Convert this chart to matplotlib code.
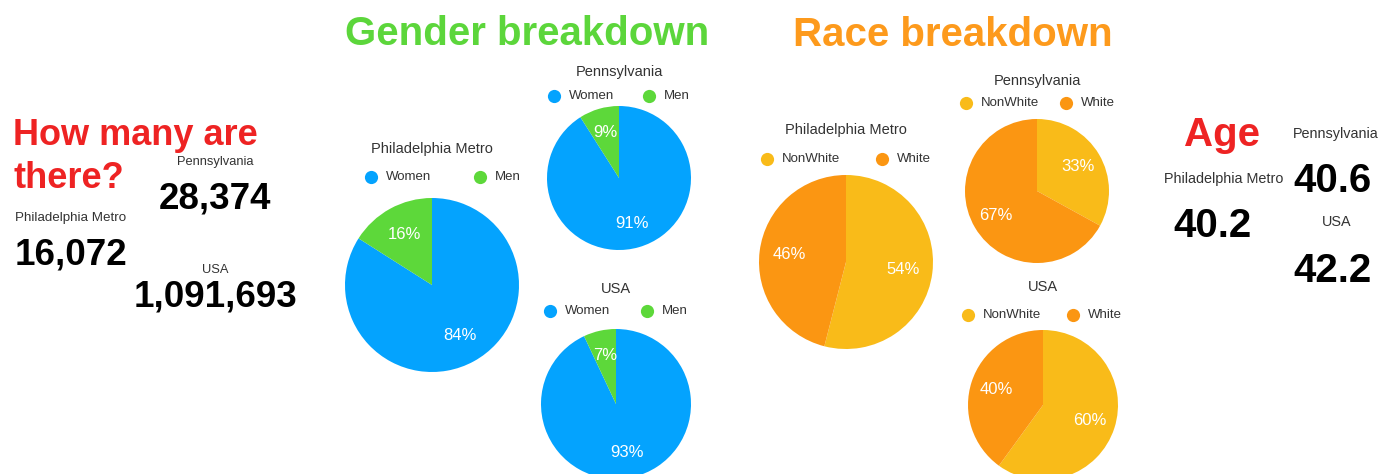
import matplotlib.pyplot as plt

plt.rcParams['font.family'] = ['Liberation Sans', 'DejaVu Sans']

# data
regions = ["Philadelphia Metro", "Pennsylvania", "USA"]
counts = [16072, 28374, 1091693]
ages = [40.2, 40.6, 42.2]
gender_labels = ["Women", "Men"]
women_pct = [84, 91, 93]
men_pct = [16, 9, 7]
race_labels = ["NonWhite", "White"]
nonwhite_pct = [54, 33, 60]
white_pct = [46, 67, 40]

BLUE = '#04a3fe'
GREEN = '#5dd83a'
YELLOW = '#f9bb19'
ORANGE = '#fb9612'
RED = '#ee2323'

W, H = 1393, 474


def Y(y):
    # pixel row from the top -> data y
    return H - y


def draw_pie(ax, vals, colors, cx, cy, r):
    ax.pie(vals, colors=colors, startangle=90, counterclock=False,
           center=(cx, Y(cy)), radius=r, autopct=lambda p: f"{p:.0f}%",
           pctdistance=0.66, wedgeprops=dict(linewidth=0),
           textprops=dict(color='white', fontsize=12))


def draw_legend(ax, title, labels, colors, cx, title_y, leg_y, mx):
    ax.text(cx, Y(title_y), title, ha='center', va='baseline',
            fontsize=10.5, color='#333333')
    for lab, col, x in zip(labels, colors, mx):
        ax.plot(x, Y(leg_y), 'o', color=col, markersize=9.5, markeredgewidth=0)
        ax.text(x + 15, Y(leg_y), lab, ha='left', va='center',
                fontsize=9.5, color='#333333')


fig = plt.figure(figsize=(W / 100, H / 100), dpi=100)
ax = fig.add_axes([0, 0, 1, 1])

# ---- how many
ax.text(13, Y(145), "How many are", color=RED, fontsize=26,
        fontweight='bold', ha='left', va='baseline')
ax.text(13, Y(188), "there?", color=RED, fontsize=26,
        fontweight='bold', ha='left', va='baseline')
count_pos = [(71, 221, 265), (215, 165, 208), (215, 273, 307)]
label_sizes = [9.6, 9.3, 9.3]
for name, val, fs, (x, ly, vy) in zip(regions, counts, label_sizes, count_pos):
    ax.text(x, Y(ly), name, ha='center', va='baseline', fontsize=fs,
            color='#333333')
    ax.text(x, Y(vy), f"{val:,}", ha='center', va='baseline', fontsize=26.5,
            fontweight='bold', color='black')

# ---- gender
ax.text(527, Y(45), "Gender breakdown", color='#5cd63b', fontsize=29,
        fontweight='bold', ha='center', va='baseline')
gender_layout = [
    # pie cx, cy, r, title baseline, legend y, marker xs
    (432, 285, 87, 153, 177, (371, 480)),
    (619, 178, 72, 76, 96, (554, 649)),
    (616, 404, 75, 293, 311, (550, 647)),
]
for name, w, m, (cx, cy, r, ty, ly, mx) in zip(regions, women_pct, men_pct,
                                                gender_layout):
    draw_pie(ax, [w, m], [BLUE, GREEN], cx, cy, r)
    draw_legend(ax, name, gender_labels, [BLUE, GREEN], cx, ty, ly, mx)

# ---- race
ax.text(953, Y(46), "Race breakdown", color='#fd9a1c', fontsize=29,
        fontweight='bold', ha='center', va='baseline')
race_layout = [
    (846, 262, 87, 134, 159, (767, 882)),
    (1037, 191, 72, 85, 103, (966, 1066)),
    (1043, 405, 75, 291, 315, (968, 1073)),
]
for name, nw, wh, (cx, cy, r, ty, ly, mx) in zip(regions, nonwhite_pct,
                                                 white_pct, race_layout):
    draw_pie(ax, [nw, wh], [YELLOW, ORANGE], cx, cy, r)
    draw_legend(ax, name, race_labels, [YELLOW, ORANGE], cx, ty, ly, mx)

# ---- age
ax.text(1222, Y(146), "Age", color=RED, fontsize=29, fontweight='bold',
        ha='center', va='baseline')
age_pos = [(1224, 183, 237, 1213), (1336, 138, 192, 1332),
           (1337, 226, 282, 1332)]
for name, val, (lx, ly, vy, vx) in zip(regions, ages, age_pos):
    ax.text(lx, Y(ly), name, ha='center', va='baseline', fontsize=10.4,
            color='#333333')
    ax.text(vx, Y(vy), f"{val:.1f}", ha='center', va='baseline', fontsize=29,
            fontweight='bold', color='black')

ax.set_xlim(0, W)
ax.set_ylim(0, H)
ax.set_aspect('equal')
ax.axis('off')

fig.savefig('out.png', dpi=100)
